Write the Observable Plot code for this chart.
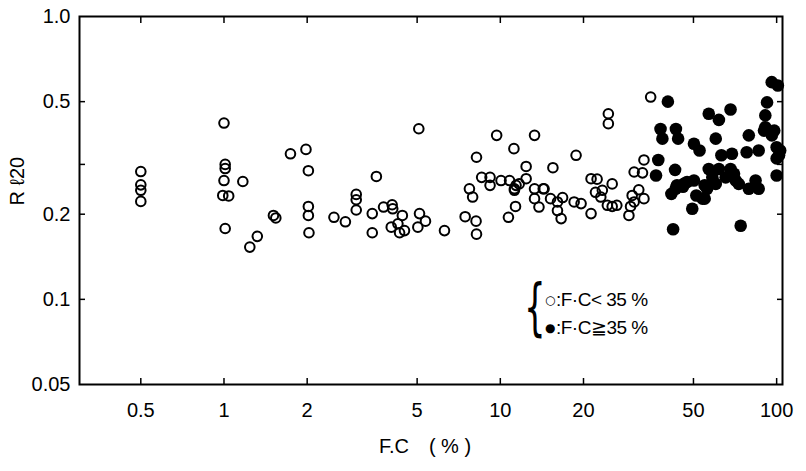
<!DOCTYPE html>
<html>
<head>
<meta charset="utf-8">
<script src="https://cdn.jsdelivr.net/npm/d3@7"></script>
<script src="https://cdn.jsdelivr.net/npm/@observablehq/plot@0.6"></script>
<style>
  body { margin: 0; background: #fff; }
  #wrap { position: relative; width: 806px; height: 471px; font-family: "Liberation Sans", Arial, sans-serif; color: #000; }
  .lg { position: absolute; font-size: 19px; line-height: 1; white-space: pre; letter-spacing: -0.5px; }
  .sym { display: inline-block; font-family: "DejaVu Sans", sans-serif; font-size: 12px; vertical-align: 2px; margin-right: 1px; }
  .brace { position: absolute; font-family: "DejaVu Sans", sans-serif; font-size: 62px; line-height: 1; transform: scaleX(0.55); transform-origin: left top; }
</style>
</head>
<body>
<div id="wrap"></div>
<script>
// Tick values and labels
const xTicks = [0.5, 1, 2, 5, 10, 20, 50, 100];
const xTickLabels = ["0.5", "1", "2", "5", "10", "20", "50", "100"];
const yTicks = [1.0, 0.5, 0.2, 0.1, 0.05];
const yTickLabels = ["1.0", "0.5", "0.2", "0.1", "0.05"];
const yMinorTicks = [0.5, 0.3, 0.2, 0.1];
const xLabel = "F.C\u2002\u2002( % )";
const yLabel = "R \u211320";
const legendOpen = "F\u00b7C< 35 %";
const legendFilled = "F\u00b7C\u226735 %";

// Open circles: F.C < 35 %
const openFC = [0.5, 0.5, 0.5, 0.5,
  1.0, 1.01, 1.01, 1.0, 0.99, 1.04, 1.01, 1.17,
  1.24, 1.32, 1.51, 1.54, 1.74,
  1.98, 2.02, 2.02, 2.02, 2.03,
  2.50, 2.75, 3.01, 3.01, 3.01,
  3.56, 3.44, 3.44, 3.78, 4.06, 4.08, 4.42, 4.03, 4.26, 4.32, 4.50,
  5.07, 5.10, 5.36, 5.03, 6.28,
  7.46, 8.17, 8.20, 7.73, 7.94, 8.20,
  8.56, 9.18, 9.18, 9.70, 10.06, 10.8, 11.2, 11.25, 11.35, 10.7,
  12.4, 12.4, 11.7, 13.3, 13.3, 13.3, 13.8, 14.3, 11.4, 11.25,
  15.5, 14.4, 15.2, 16.8, 16.1, 16.1, 16.6,
  18.8, 18.5, 19.6, 21.3,
  21.3, 22.4, 25.4, 22.1, 23.4, 23.1, 24.4, 25.4, 26.4,
  24.6, 24.6, 35.0,
  33.1, 30.5, 32.7, 30.0, 31.7, 33.1, 30.5, 29.6, 29.2];
const openR = [0.283, 0.254, 0.243, 0.222,
  0.42, 0.30, 0.29, 0.263, 0.233, 0.232, 0.178, 0.261,
  0.153, 0.167, 0.198, 0.194, 0.327,
  0.339, 0.285, 0.213, 0.198, 0.172,
  0.195, 0.188, 0.235, 0.225, 0.207,
  0.272, 0.201, 0.172, 0.212, 0.216, 0.209, 0.198, 0.180, 0.185, 0.172, 0.175,
  0.401, 0.201, 0.189, 0.180, 0.175,
  0.196, 0.189, 0.170, 0.246, 0.230, 0.318,
  0.270, 0.270, 0.253, 0.380, 0.263, 0.263, 0.341, 0.246, 0.213, 0.195,
  0.295, 0.267, 0.256, 0.380, 0.246, 0.227, 0.212, 0.246, 0.253, 0.243,
  0.292, 0.246, 0.227, 0.229, 0.221, 0.206, 0.193,
  0.323, 0.221, 0.218, 0.201,
  0.267, 0.266, 0.256, 0.239, 0.243, 0.230, 0.215, 0.213, 0.215,
  0.453, 0.418, 0.519,
  0.311, 0.282, 0.280, 0.233, 0.244, 0.227, 0.221, 0.213, 0.198];

// Filled circles: F.C >= 35 %
const filledFC = [40.4, 38.0, 38.6, 43.2, 44.0, 37.3, 36.6, 42.9, 43.1, 45.8, 42.2,
  50.2, 52.6, 56.8, 61.8, 68.1, 60.2, 63.1, 79.3,
  68.9, 77.9, 86.1, 92.3, 91.0, 90.0, 96.1, 91.0, 98.0,
  96.0, 101.0,
  100.0, 103.0, 102.0, 100.0, 100.0,
  56.8, 61.8, 68.1, 70.1, 65.4, 71.1, 72.9,
  46.1, 50.2, 54.9, 58.5, 60.2, 56.0, 51.2, 54.9, 49.5,
  83.9, 79.3, 86.1, 74.1,
  41.6, 43.6, 47.4, 53.9];
const filledR = [0.50, 0.40, 0.37, 0.40, 0.37, 0.311, 0.274, 0.287, 0.246, 0.25, 0.177,
  0.355, 0.336, 0.453, 0.431, 0.469, 0.37, 0.323, 0.38,
  0.327, 0.331, 0.336, 0.497, 0.447, 0.395, 0.38, 0.406, 0.395,
  0.586, 0.57,
  0.345, 0.336, 0.323, 0.315, 0.274,
  0.289, 0.289, 0.289, 0.278, 0.27, 0.263, 0.256,
  0.256, 0.263, 0.253, 0.27, 0.256, 0.246, 0.233, 0.227, 0.209,
  0.263, 0.246, 0.246, 0.182,
  0.236, 0.253, 0.26, 0.227];

const openData = openFC.map((x, i) => ({x, y: openR[i]}));
const filledData = filledFC.map((x, i) => ({x, y: filledR[i]}));
const xTickData = xTicks.map((v, i) => ({v, label: xTickLabels[i]}));
const yTickData = yTicks.map((v, i) => ({v, label: yTickLabels[i]}));
const blank = () => "";

const chart = Plot.plot({
  width: 806, height: 471,
  marginLeft: 79, marginRight: 24, marginTop: 16, marginBottom: 87,
  x: {type: "log", domain: [0.3, 105]},
  y: {type: "log", domain: [0.05, 1.0]},
  style: {fontFamily: "'Liberation Sans', Arial, sans-serif", fontSize: "20px", color: "#000", background: "#fff"},
  marks: [
    Plot.frame({stroke: "#000", strokeWidth: 2}),
    Plot.axisX(xTicks, {anchor: "bottom", tickSize: -6, strokeWidth: 1.5, tickFormat: blank, label: null}),
    Plot.axisX(xTicks, {anchor: "top", tickSize: -6, strokeWidth: 1.5, tickFormat: blank, label: null}),
    Plot.axisY(yMinorTicks, {anchor: "left", tickSize: -6, strokeWidth: 1.5, tickFormat: blank, label: null}),
    Plot.axisY(yMinorTicks, {anchor: "right", tickSize: -6, strokeWidth: 1.5, tickFormat: blank, label: null}),
    Plot.text(xTickData, {x: "v", text: "label", frameAnchor: "bottom", lineAnchor: "top", dy: 18, fontSize: 20}),
    Plot.text(yTickData, {y: "v", text: "label", frameAnchor: "left", textAnchor: "end", dx: -9, fontSize: 20}),
    Plot.text([xLabel], {frameAnchor: "bottom", dy: 68, dx: -6, fontSize: 20, text: d => d}),
    Plot.text([yLabel], {frameAnchor: "left", dx: -62, dy: 5, rotate: -90, fontSize: 20, text: d => d}),
    Plot.dot(openData, {x: "x", y: "y", r: 4.8, stroke: "#000", strokeWidth: 2, fill: "none"}),
    Plot.dot(filledData, {x: "x", y: "y", r: 6.3, fill: "#000", stroke: "none"})
  ]
});
const wrap = document.getElementById("wrap");
wrap.appendChild(chart);

// Legend overlay
function addDiv(cls, symbol, text, left, top) {
  const d = document.createElement("div");
  d.className = cls;
  if (symbol) {
    const s = document.createElement("span");
    s.className = "sym";
    s.textContent = symbol;
    d.appendChild(s);
  }
  d.appendChild(document.createTextNode(text));
  d.style.left = left + "px";
  d.style.top = top + "px";
  wrap.appendChild(d);
  return d;
}
addDiv("brace", null, "{", 524, 276);
addDiv("lg", "\u25cb", ":" + legendOpen, 545, 290);
addDiv("lg", "\u25cf", ":" + legendFilled, 545, 318);
</script>
</body>
</html>
